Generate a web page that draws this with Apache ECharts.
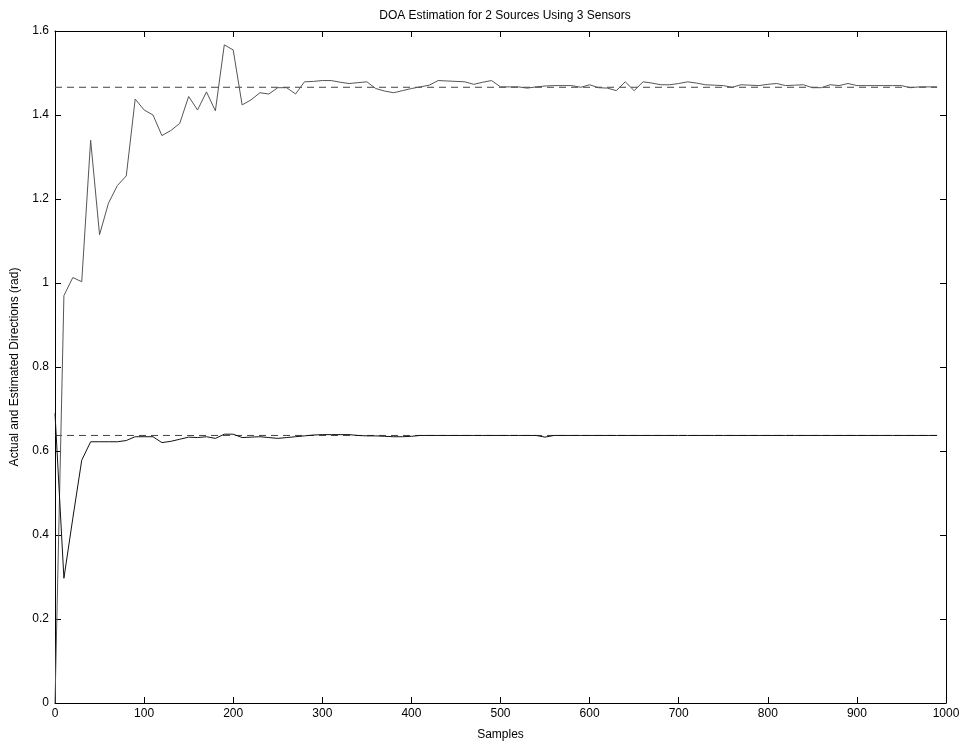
<!DOCTYPE html>
<html>
<head>
<meta charset="utf-8">
<script src="https://cdn.jsdelivr.net/npm/echarts@6/dist/echarts.min.js"></script>
<style>html,body{margin:0;padding:0;background:#fff}#c{width:966px;height:748px}</style>
</head>
<body>
<div id="c"></div>
<script>
var samples = [];
for (var i = 0; i < 100; i++) samples.push(i * 10);

var source1Estimate = [
  0, 0.97, 1.013, 1.003, 1.34, 1.115, 1.19, 1.232, 1.255, 1.438,
  1.412, 1.40, 1.351, 1.363, 1.380, 1.444, 1.412, 1.455, 1.410, 1.567,
  1.555, 1.424, 1.436, 1.453, 1.450, 1.465, 1.465, 1.450, 1.479, 1.480,
  1.482, 1.482, 1.478, 1.475, 1.477, 1.479, 1.463, 1.457, 1.453, 1.458,
  1.463, 1.467, 1.471, 1.482, 1.481, 1.480, 1.479, 1.473, 1.478, 1.482,
  1.467, 1.467, 1.467, 1.464, 1.467, 1.469, 1.470, 1.470, 1.470, 1.466,
  1.472, 1.465, 1.464, 1.458, 1.479, 1.458, 1.479, 1.476, 1.472, 1.472,
  1.475, 1.479, 1.476, 1.472, 1.471, 1.470, 1.466, 1.472, 1.471, 1.470,
  1.473, 1.475, 1.470, 1.471, 1.472, 1.465, 1.465, 1.472, 1.470, 1.475,
  1.470, 1.470, 1.470, 1.470, 1.470, 1.470, 1.465, 1.467, 1.467, 1.467
];

var source2Estimate = [
  0.69, 0.297, 0.44, 0.578, 0.622, 0.622, 0.622, 0.622, 0.625, 0.634,
  0.634, 0.634, 0.620, 0.623, 0.628, 0.633, 0.632, 0.634, 0.630, 0.640,
  0.640, 0.632, 0.633, 0.634, 0.632, 0.630, 0.632, 0.634, 0.636, 0.638,
  0.639, 0.639, 0.639, 0.639, 0.637, 0.636, 0.636, 0.635, 0.634, 0.634,
  0.635, 0.637, 0.637, 0.637, 0.637, 0.637, 0.637, 0.637, 0.637, 0.637,
  0.637, 0.637, 0.637, 0.637, 0.637, 0.633, 0.637, 0.637, 0.637, 0.637,
  0.637, 0.637, 0.637, 0.637, 0.637, 0.637, 0.637, 0.637, 0.637, 0.637,
  0.637, 0.637, 0.637, 0.637, 0.637, 0.637, 0.637, 0.637, 0.637, 0.637,
  0.637, 0.637, 0.637, 0.637, 0.637, 0.637, 0.637, 0.637, 0.637, 0.637,
  0.637, 0.637, 0.637, 0.637, 0.637, 0.637, 0.637, 0.637, 0.637, 0.637
];

var actualDirections = [1.466, 0.637];
var actualRange = [0, 990];

var titleText = 'DOA Estimation for 2 Sources Using 3 Sensors';
var xName = 'Samples';
var yName = 'Actual and Estimated Directions (rad)';

function pairs(xs, ys) { return xs.map(function (x, i) { return [x, ys[i]]; }); }
function flat(v) { return [[actualRange[0], v], [actualRange[1], v]]; }

var font = 'Liberation Sans, Arial, sans-serif';
var axisLine = { show: true, onZero: false, lineStyle: { color: '#000', width: 1 } };
var tick = { show: true, inside: true, length: 6, lineStyle: { color: '#000' } };

var chart = echarts.init(document.getElementById('c'), null, { renderer: 'canvas' });
chart.setOption({
  animation: false,
  backgroundColor: '#fff',
  title: {
    text: titleText, left: 500, top: 5, textAlign: 'center',
    textStyle: { fontFamily: font, fontSize: 12, fontWeight: 'normal', color: '#000' }
  },
  grid: { left: 55, right: 20, top: 31, bottom: 45, show: false },
  xAxis: [
    {
      type: 'value', min: 0, max: 1000, interval: 100, position: 'bottom',
      name: xName, nameLocation: 'middle', nameGap: 26,
      nameTextStyle: { fontFamily: font, fontSize: 12, color: '#000' },
      axisLine: axisLine, axisTick: tick, splitLine: { show: false },
      axisLabel: { fontFamily: font, fontSize: 12, color: '#000', margin: 5,
        formatter: function (v) { return String(v); } }
    },
    {
      type: 'value', min: 0, max: 1000, interval: 100, position: 'top',
      axisLine: axisLine, axisTick: tick, splitLine: { show: false },
      axisLabel: { show: false }
    }
  ],
  yAxis: [
    {
      type: 'value', min: 0, max: 1.6, interval: 0.2, position: 'left',
      name: yName, nameLocation: 'middle', nameGap: 34, nameRotate: 90,
      nameTextStyle: { fontFamily: font, fontSize: 12, color: '#000' },
      axisLine: axisLine, axisTick: tick, splitLine: { show: false },
      axisLabel: { fontFamily: font, fontSize: 12, color: '#000', margin: 6 }
    },
    {
      type: 'value', min: 0, max: 1.6, interval: 0.2, position: 'right',
      axisLine: axisLine, axisTick: tick, splitLine: { show: false },
      axisLabel: { show: false }
    }
  ],
  series: [
    {
      type: 'line', data: flat(actualDirections[0]), symbol: 'none',
      lineStyle: { color: '#444', width: 1, type: [7, 5] }
    },
    {
      type: 'line', data: flat(actualDirections[1]), symbol: 'none',
      lineStyle: { color: '#444', width: 1, type: [7, 5] }
    },
    {
      type: 'line', data: pairs(samples, source1Estimate), symbol: 'none',
      lineStyle: { color: '#555', width: 1 }
    },
    {
      type: 'line', data: pairs(samples, source2Estimate), symbol: 'none',
      lineStyle: { color: '#111', width: 1 }
    }
  ]
});
</script>
</body>
</html>
